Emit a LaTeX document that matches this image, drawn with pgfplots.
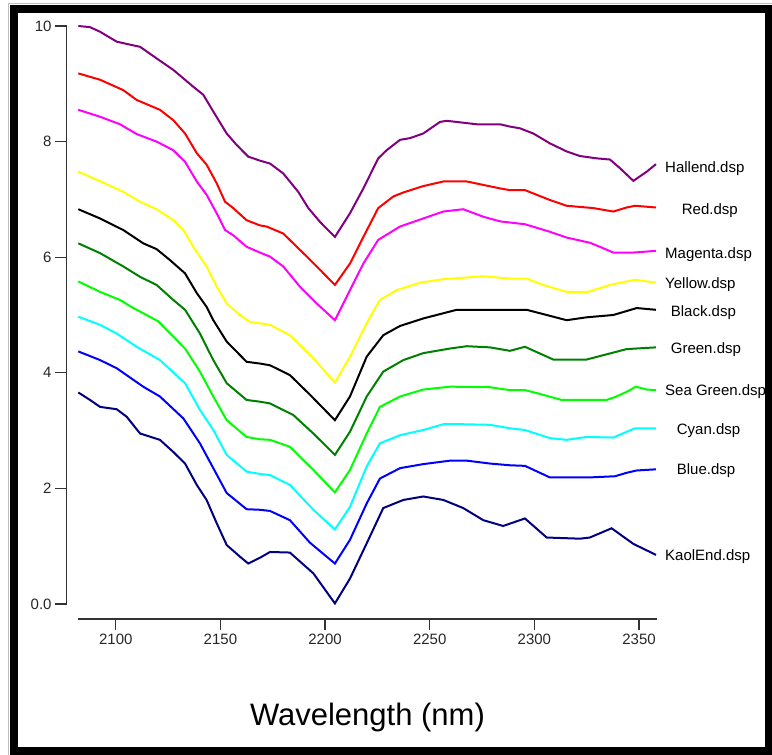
\documentclass[border=0pt]{standalone}
\usepackage{fontspec}
\setmainfont{Liberation Sans}
\usepackage{pgfplots}
\pgfplotsset{compat=1.18}

\definecolor{cHall}{HTML}{800080}
\definecolor{cRed}{HTML}{FF0000}
\definecolor{cMag}{HTML}{FF00FF}
\definecolor{cYel}{HTML}{FFFF00}
\definecolor{cBlk}{HTML}{000000}
\definecolor{cGrn}{HTML}{008000}
\definecolor{cSea}{HTML}{00FF00}
\definecolor{cCya}{HTML}{00FFFF}
\definecolor{cBlu}{HTML}{0000FF}
\definecolor{cKao}{HTML}{000080}
\definecolor{axgray}{HTML}{333333}

\newcommand{\lblfont}{\fontsize{15}{18}\selectfont}

\begin{document}
\begin{tikzpicture}
\useasboundingbox (0,0) rectangle (772pt,755pt);
\begin{axis}[
  at={(78.1pt,151pt)}, anchor=south west,
  width=578.7pt, height=578pt, scale only axis,
  xmin=2082, xmax=2358.5, ymin=0, ymax=10,
  axis lines=left,
  axis line style={-, axgray, line width=1.3pt},
  axis x line shift=15pt,
  axis y line shift=11.5pt,
  xtick={2100,2150,2200,2250,2300,2350},
  xticklabels={2100,2150,2200,2250,2300,2350},
  ytick={0,2,4,6,8,10},
  yticklabels={0.0,2,4,6,8,10},
  tick align=outside,
  major tick length=11.5pt,
  tick style={axgray, line width=1.3pt},
  ticklabel style={font=\lblfont, text=black!85},
  /pgf/number format/assume math mode=true,
  xlabel={Wavelength (nm)},
  x label style={at={(axis description cs:0.5,0)}, anchor=center, yshift=-113pt,
    font=\fontsize{31}{36}\selectfont},
  clip=false,
]
% Hallend.dsp
\addplot[cHall, line width=2pt] table {
2082.1 10.00
2087.7 9.98
2092.5 9.90
2100.4 9.73
2105.2 9.69
2111.6 9.64
2119.5 9.44
2127.5 9.24
2137.0 8.95
2141.8 8.81
2146.6 8.52
2153.0 8.14
2157.8 7.94
2163.3 7.74
2168.9 7.67
2173.7 7.62
2180.0 7.45
2187.2 7.13
2192.0 6.85
2197.6 6.61
2204.7 6.35
2211.9 6.76
2218.3 7.19
2225.4 7.71
2229.4 7.85
2235.8 8.03
2240.6 8.06
2246.9 8.14
2254.9 8.34
2258.1 8.36
2272.4 8.30
2283.6 8.30
2288.3 8.26
2293.1 8.23
2299.5 8.14
2307.4 7.97
2315.4 7.83
2321.8 7.75
2329.8 7.71
2336.1 7.69
2340.9 7.54
2347.3 7.32
2353.7 7.48
2358.1 7.61
};
% Red.dsp
\addplot[cRed, line width=2pt] table {
2082.1 9.18
2092.5 9.07
2103.6 8.89
2110.0 8.72
2121.1 8.55
2127.5 8.37
2133.1 8.14
2138.7 7.80
2143.4 7.60
2148.2 7.28
2152.2 6.96
2156.1 6.85
2162.5 6.64
2168.9 6.55
2172.1 6.53
2180.0 6.41
2189.6 6.07
2196.0 5.84
2204.7 5.52
2211.9 5.89
2218.3 6.35
2225.4 6.85
2232.6 7.05
2237.4 7.12
2246.9 7.23
2256.5 7.31
2267.7 7.31
2283.6 7.19
2288.3 7.16
2295.5 7.16
2307.4 6.99
2315.4 6.89
2328.1 6.85
2337.7 6.79
2344.1 6.86
2348.1 6.89
2358.1 6.86
};
% Magenta.dsp
\addplot[cMag, line width=2pt] table {
2082.1 8.55
2092.5 8.43
2102.0 8.30
2110.0 8.13
2119.5 8.00
2127.5 7.85
2133.1 7.65
2138.7 7.31
2143.4 7.08
2148.2 6.76
2152.2 6.47
2156.1 6.38
2162.5 6.18
2168.9 6.08
2173.7 6.01
2180.0 5.84
2188.0 5.49
2196.0 5.20
2204.7 4.91
2211.9 5.43
2218.3 5.89
2225.4 6.30
2235.8 6.53
2246.9 6.67
2256.5 6.79
2266.0 6.83
2275.6 6.70
2283.6 6.62
2295.5 6.57
2307.4 6.44
2315.4 6.34
2326.5 6.25
2331.3 6.18
2337.7 6.08
2347.3 6.08
2358.1 6.11
};
% Yellow.dsp
\addplot[cYel, line width=2pt] table {
2082.1 7.48
2094.0 7.29
2103.6 7.13
2111.6 6.96
2119.5 6.83
2127.5 6.64
2132.3 6.47
2137.0 6.18
2143.4 5.84
2148.2 5.49
2153.0 5.20
2159.3 5.00
2164.1 4.88
2173.7 4.83
2183.2 4.65
2194.4 4.25
2204.7 3.83
2211.9 4.28
2219.9 4.86
2226.2 5.26
2234.2 5.43
2245.4 5.56
2256.5 5.62
2275.6 5.67
2288.3 5.63
2296.3 5.63
2304.2 5.52
2315.4 5.40
2325.7 5.40
2336.1 5.52
2348.1 5.61
2358.1 5.56
};
% Black.dsp
\addplot[cBlk, line width=2pt] table {
2082.1 6.83
2092.5 6.67
2103.6 6.47
2113.1 6.24
2119.5 6.14
2125.9 5.95
2133.1 5.72
2138.7 5.38
2143.4 5.14
2146.6 4.91
2153.0 4.54
2162.5 4.19
2168.9 4.16
2173.7 4.13
2183.2 3.96
2192.8 3.62
2204.7 3.18
2211.9 3.59
2219.9 4.28
2227.8 4.65
2235.8 4.81
2246.9 4.94
2259.7 5.06
2262.9 5.09
2288.3 5.09
2296.3 5.09
2305.9 5.00
2315.4 4.91
2325.0 4.96
2337.7 5.00
2348.9 5.12
2358.1 5.09
};
% Green.dsp
\addplot[cGrn, line width=2pt] table {
2082.1 6.24
2092.5 6.07
2103.6 5.84
2111.6 5.66
2119.5 5.52
2127.5 5.26
2133.1 5.09
2140.2 4.68
2146.6 4.22
2153.0 3.82
2162.5 3.53
2168.9 3.50
2173.7 3.47
2184.8 3.27
2194.4 2.95
2204.7 2.58
2211.9 2.98
2219.9 3.59
2227.8 4.02
2237.4 4.22
2246.9 4.34
2259.7 4.42
2267.7 4.46
2278.8 4.44
2288.3 4.38
2295.5 4.45
2309.0 4.23
2325.0 4.23
2344.1 4.41
2358.1 4.44
};
% Sea Green.dsp
\addplot[cSea, line width=2pt] table {
2082.1 5.58
2092.5 5.40
2102.0 5.26
2108.4 5.12
2111.6 5.06
2120.3 4.89
2133.1 4.42
2140.2 4.02
2146.6 3.59
2153.0 3.18
2162.5 2.89
2168.9 2.85
2173.7 2.84
2183.2 2.72
2194.4 2.32
2204.7 1.93
2211.9 2.32
2219.9 2.95
2226.2 3.41
2235.8 3.59
2246.9 3.71
2259.7 3.76
2278.8 3.75
2288.3 3.70
2295.5 3.70
2301.1 3.65
2313.0 3.53
2334.5 3.53
2338.5 3.58
2344.1 3.67
2348.5 3.76
2353.7 3.71
2358.1 3.70
};
% Cyan.dsp
\addplot[cCya, line width=2pt] table {
2082.1 4.97
2092.5 4.83
2100.4 4.68
2110.0 4.45
2121.1 4.22
2133.1 3.82
2140.2 3.36
2146.6 3.01
2153.0 2.58
2162.5 2.29
2168.9 2.25
2173.7 2.23
2183.2 2.06
2194.4 1.63
2204.7 1.29
2211.9 1.68
2219.9 2.38
2226.2 2.78
2235.8 2.92
2246.9 3.01
2256.5 3.11
2266.0 3.11
2278.8 3.10
2288.3 3.04
2295.5 3.01
2307.4 2.87
2315.4 2.84
2325.0 2.89
2337.7 2.88
2348.1 3.04
2358.1 3.04
};
% Blue.dsp
\addplot[cBlu, line width=2pt] table {
2082.1 4.37
2092.5 4.22
2100.4 4.08
2113.1 3.76
2121.1 3.59
2132.3 3.21
2140.2 2.78
2146.6 2.35
2153.0 1.92
2162.5 1.64
2168.9 1.63
2173.7 1.61
2183.2 1.45
2192.8 1.06
2204.7 0.70
2211.9 1.11
2219.9 1.74
2226.2 2.17
2235.8 2.35
2246.9 2.42
2259.7 2.48
2267.7 2.48
2278.8 2.43
2288.3 2.40
2295.5 2.39
2307.4 2.19
2326.5 2.19
2338.5 2.21
2344.1 2.27
2348.9 2.31
2358.1 2.33
};
% KaolEnd.dsp
\addplot[cKao, line width=2pt] table {
2082.1 3.66
2087.7 3.53
2092.5 3.41
2100.4 3.37
2105.2 3.24
2111.6 2.95
2121.1 2.84
2127.5 2.63
2133.1 2.43
2138.7 2.06
2143.4 1.80
2148.2 1.40
2153.0 1.02
2159.3 0.82
2163.3 0.70
2168.9 0.80
2173.7 0.90
2183.2 0.89
2194.4 0.53
2204.7 0.01
2211.9 0.44
2219.9 1.05
2227.8 1.66
2237.4 1.80
2246.9 1.86
2256.5 1.80
2266.0 1.66
2275.6 1.45
2285.1 1.35
2295.5 1.48
2305.9 1.15
2321.8 1.13
2326.5 1.15
2336.9 1.31
2347.3 1.04
2358.1 0.85
};
\end{axis}
% series names at the right end
\begin{scope}[every node/.style={anchor=base west, inner sep=0pt, font=\lblfont, text=black}]
\node at (665pt,582.5pt) {Hallend.dsp};
\node at (681.7pt,540pt) {Red.dsp};
\node at (665pt,496pt) {Magenta.dsp};
\node at (665pt,466pt) {Yellow.dsp};
\node at (670.7pt,438.5pt) {Black.dsp};
\node at (670.7pt,401pt) {Green.dsp};
\node at (665pt,359pt) {Sea Green.dsp};
\node at (676.7pt,320pt) {Cyan.dsp};
\node at (676.7pt,280pt) {Blue.dsp};
\node at (665pt,194pt) {KaolEnd.dsp};
\end{scope}
% outer frame
\draw[gray!50, line width=0.8pt] (8.5pt,0pt) -- (8.5pt,751.6pt) -- (772pt,751.6pt);
\draw[black, line width=8pt] (14pt,4pt) rectangle (768.5pt,746pt);
\end{tikzpicture}
\end{document}
